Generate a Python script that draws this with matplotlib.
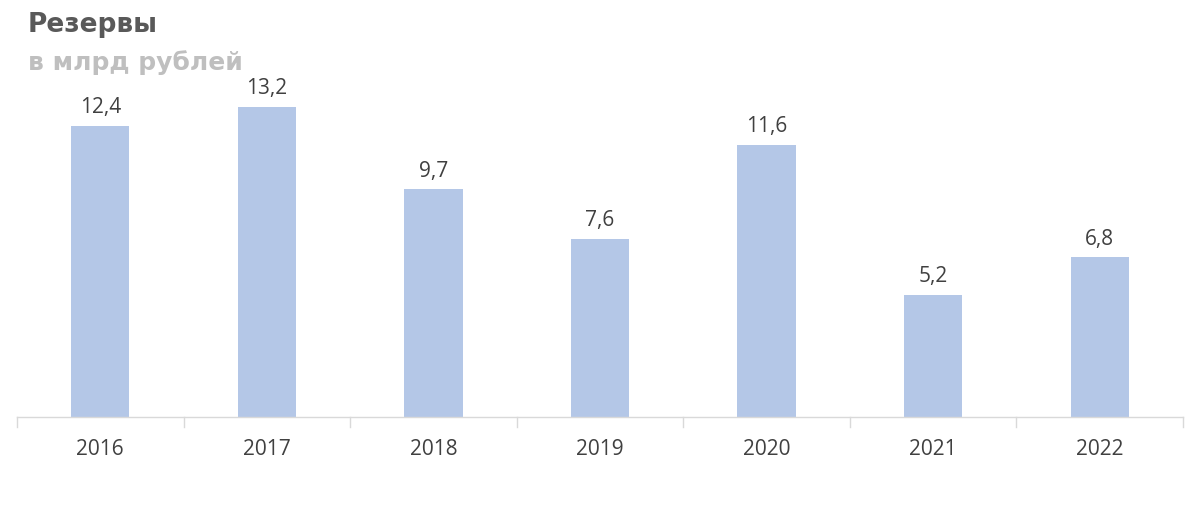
import matplotlib
matplotlib.use('Agg')
import matplotlib.pyplot as plt

# данные
years = ['2016', '2017', '2018', '2019', '2020', '2021', '2022']
reserves = [12.4, 13.2, 9.7, 7.6, 11.6, 5.2, 6.8]

bar_color = '#b4c7e7'
axis_color = '#d9d9d9'
label_color = '#404040'

fig = plt.figure(figsize=(12, 5.17), dpi=100)
# ось: x от 17 до 1183 px, низ на 417 px, верх на 80 px
ax = fig.add_axes([17 / 1200, 100 / 517, 1166 / 1200, 337 / 517])

x = range(len(years))
bars = ax.bar(x, reserves, width=0.35, color=bar_color, zorder=2)

for xi, v in zip(x, reserves):
    ax.text(xi, v + 0.33, f'{v:.1f}'.replace('.', ','), ha='center', va='bottom',
            fontsize=15, color=label_color, family='Open Sans')

ax.set_xlim(-0.5, len(years) - 0.5)
ax.set_ylim(0, 337 / 23.47)
ax.set_yticks([])

# подписи годов и засечки на границах категорий
ax.set_xticks(list(x))
ax.set_xticklabels(years, fontsize=15, color=label_color, family='Open Sans')
ax.tick_params(axis='x', length=0, pad=16)
for b in [i - 0.5 for i in range(len(years) + 1)]:
    ax.plot([b, b], [0, -0.43], color=axis_color, lw=1, clip_on=False)

for s in ['top', 'right', 'left']:
    ax.spines[s].set_visible(False)
ax.spines['bottom'].set_color(axis_color)
ax.spines['bottom'].set_linewidth(1)

fig.text(28 / 1200, 1 - 25 / 517, 'Резервы', fontsize=19, fontweight='heavy',
         color='#595959', va='center', ha='left', family='DejaVu Sans')
fig.text(28 / 1200, 1 - 63 / 517, 'в млрд рублей', fontsize=18, fontweight='heavy',
         color='#bfbfbf', va='center', ha='left', family='DejaVu Sans')

fig.savefig('out.png', dpi=100)
